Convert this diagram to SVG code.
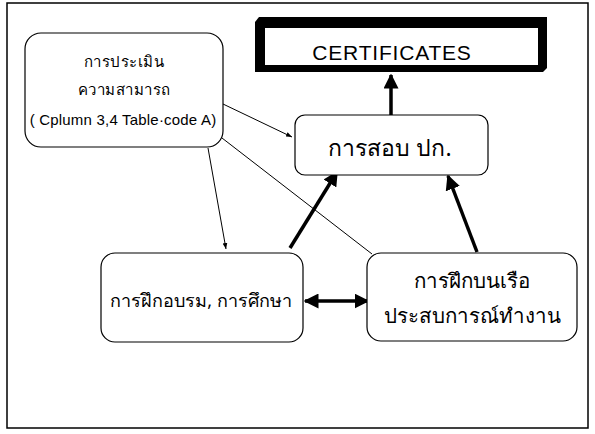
<svg xmlns="http://www.w3.org/2000/svg" width="595" height="434" viewBox="0 0 595 434">
<defs>
<style>
.node{fill:#fff;stroke:#000;stroke-width:1.2}
.t{font-family:"Noto Sans","DejaVu Sans",sans-serif;fill:#000;text-anchor:middle}
.l{font-family:"Liberation Sans",Arial,sans-serif;fill:#000;text-anchor:middle}
.thin{stroke:#000;stroke-width:1;fill:none}
.thick{stroke:#000;stroke-width:3.5;fill:none}
</style>
<marker id="ah" viewBox="0 0 10 10" refX="10" refY="5" markerWidth="6" markerHeight="6" orient="auto-start-reverse" markerUnits="userSpaceOnUse"><path d="M0,1 L10,5 L0,9 z" fill="#000"/></marker>
<marker id="AH" viewBox="0 0 10 10" refX="9" refY="5" markerWidth="15" markerHeight="15" orient="auto-start-reverse" markerUnits="userSpaceOnUse"><path d="M0,0 L10,5 L0,10 z" fill="#000"/></marker>
</defs>
<rect x="0" y="0" width="595" height="434" fill="#fff"/>
<rect x="7" y="3" width="581" height="425" fill="none" stroke="#000" stroke-width="1.5"/>
<g id="connectors">
<line class="thin" x1="223" y1="104" x2="292" y2="137" marker-end="url(#ah)"/>
<line class="thin" x1="222" y1="138" x2="372" y2="254"/>
<line class="thin" x1="208" y1="148" x2="226" y2="249" marker-end="url(#ah)"/>
<line class="thick" x1="290" y1="248" x2="337" y2="172" marker-end="url(#AH)"/>
<line class="thick" x1="477" y1="252" x2="448" y2="176" marker-end="url(#AH)"/>
<line class="thick" x1="391" y1="118" x2="391" y2="75" marker-end="url(#AH)"/>
<line class="thick" x1="305" y1="301" x2="368" y2="301" marker-start="url(#AH)" marker-end="url(#AH)"/>
</g>
<g id="certificates">
<path d="M255,22 L259,17 L547,17 L547,68 L543,72 L255,72 Z" fill="#000"/>
<rect x="265" y="28" width="273" height="37" fill="#fff"/>
<text class="l" x="392" y="60" font-size="21" letter-spacing="0.8">CERTIFICATES</text>
</g>
<g id="assessment">
<rect class="node" x="25" y="33" width="198" height="114" rx="16"/>
<text class="t" x="124" y="67" font-size="15" letter-spacing="0.5">การประเมิน</text>
<text class="t" x="124" y="95" font-size="15" letter-spacing="0.5">ความสามารถ</text>
<text class="l" x="123" y="125" font-size="15" letter-spacing="0.2">(  Cplumn 3,4 Table·code A)</text>
</g>
<g id="exam">
<rect class="node" x="295" y="115" width="193" height="60" rx="10"/>
<text class="t" x="390" y="156" font-size="23">การสอบ ปก.</text>
</g>
<g id="training">
<rect class="node" x="101" y="253" width="202" height="89" rx="14"/>
<text class="t" x="201" y="307" font-size="18">การฝึกอบรม, การศึกษา</text>
</g>
<g id="onboard">
<rect class="node" x="367" y="253" width="210" height="88" rx="14"/>
<text class="t" x="472" y="288" font-size="20.5">การฝึกบนเรือ</text>
<text class="t" x="472" y="323" font-size="20.5">ประสบการณ์ทำงาน</text>
</g>
</svg>
